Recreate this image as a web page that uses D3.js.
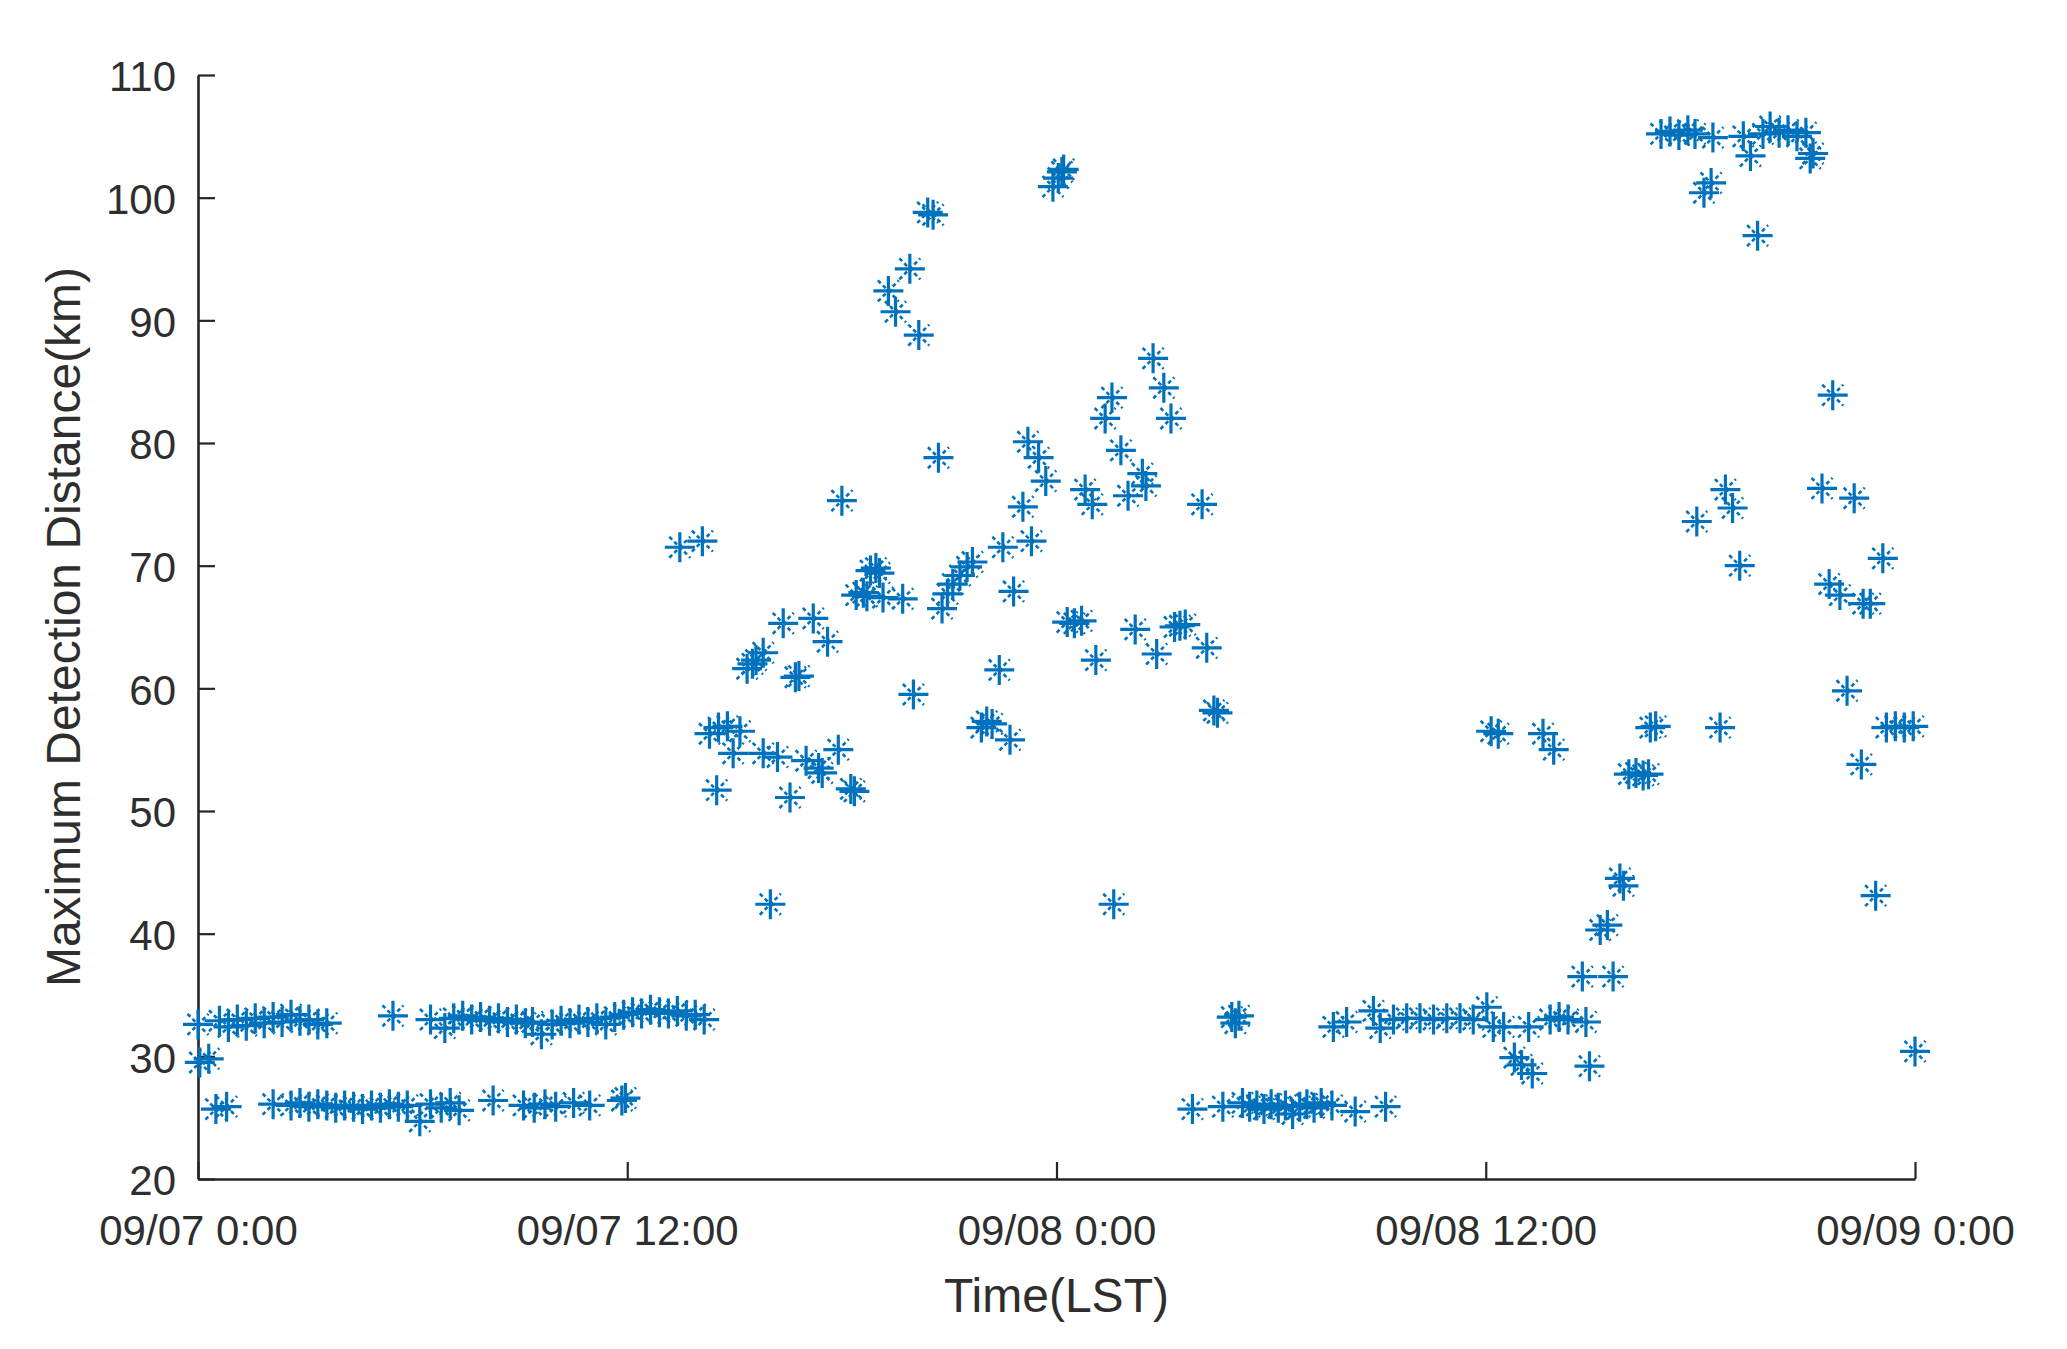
<!DOCTYPE html>
<html>
<head>
<meta charset="utf-8">
<script src="https://cdn.jsdelivr.net/npm/d3@7/dist/d3.min.js"></script>
<style>
  html, body { margin: 0; padding: 0; background: #ffffff; }
  svg { display: block; }
  text { font-family: "Liberation Sans", Arial, Helvetica, sans-serif; fill: #2e2e2e; }
</style>
</head>
<body>
<svg id="chart" width="2067" height="1349"></svg>
<script>
// Hours since 09/07 0:00 (LST)
const hours = [
  // 09/07 00-12 upper band
  0.0, 0.6, 0.85, 1.1, 1.35, 1.6, 1.85, 2.1, 2.35, 2.6, 2.85, 3.1, 3.35, 3.6,
  5.45, 6.5, 6.9, 7.15, 7.4, 7.65, 7.9, 8.15, 8.4, 8.65, 8.9, 9.15, 9.35, 9.6,
  9.9, 10.15, 10.4, 10.65, 10.9, 11.15, 11.4, 11.65, 11.9, 12.15, 12.4, 12.65, 12.9,
  13.15, 13.4, 13.65, 13.9, 14.15,
  // 09/07 00-12 lower band
  0.05, 0.3, 0.5, 0.8, 2.1, 2.6, 2.85, 3.1, 3.35, 3.6, 3.85, 4.1, 4.35, 4.6, 4.85,
  5.1, 5.35, 5.6, 5.85, 6.2, 6.5, 6.8, 7.05, 7.3, 8.25, 9.1, 9.4, 9.7, 10.0, 10.5,
  10.95, 11.85, 11.95,
  // 09/07 12 - 09/08 04
  13.47, 14.1, 14.3, 14.55, 14.8, 15.15, 14.96, 14.5, 15.35, 15.5, 15.6, 15.8,
  15.8, 16.2, 16.0, 16.36, 16.55, 16.7, 16.8, 17.0, 17.35, 17.45, 17.2, 17.6, 17.9,
  18.0, 18.25, 18.35, 18.4, 18.6, 18.7, 18.8, 18.95, 19.05, 19.15, 19.7,
  19.3, 19.5, 19.9, 20.15, 20.0, 20.4, 20.55, 20.7,
  20.8, 20.95, 21.1, 21.3, 21.5, 21.65, 21.9, 22.05, 22.2, 22.4, 22.5, 22.7, 22.8,
  23.06, 23.3, 23.2, 23.5, 23.7, 23.9, 24.05, 24.15, 24.2,
  24.3, 24.5, 24.7, 24.8, 25.0, 25.1, 25.36, 25.55, 25.6, 25.8, 26.0, 26.2,
  26.4, 26.5, 26.7, 26.8, 27.0, 27.2, 27.3, 27.45, 27.6, 28.07, 28.2, 28.4, 28.5,
  // 09/08 04-12 low bands
  27.8, 28.65, 29.2, 29.4, 29.6, 29.8, 30.0, 30.2, 30.4, 30.6, 30.8, 31.0, 31.2,
  31.4, 31.7, 32.35, 33.2, 28.9, 29.0, 29.1,
  31.74, 32.11, 32.86, 33.05, 33.42, 33.79, 34.16, 34.54, 34.91, 35.28, 35.65,
  36.03, 36.21,
  // 09/08 12 - 09/09 00
  36.15, 36.35, 36.5, 37.2, 36.8, 37.0, 37.3, 37.6, 37.9, 37.8, 38.05, 38.3, 38.8,
  38.7, 39.56, 38.9, 39.2, 39.4, 39.75, 39.85, 40.0, 40.2, 40.4, 40.55, 40.6, 40.75,
  40.9, 41.15, 41.4, 41.65, 41.85, 41.9, 42.1, 42.3, 42.35, 42.55, 42.7, 42.9, 43.1,
  43.2, 43.4, 43.6, 43.75, 43.95, 44.2, 44.45, 44.7, 44.95, 45.07, 45.15,
  45.4, 45.6, 45.9, 45.7, 46.1, 46.3, 46.5, 46.55, 46.75, 46.9, 47.1,
  47.2, 47.45, 47.7, 47.95, 48.0
];

// Maximum detection distance (km)
const distance = [
  32.6, 32.9, 32.4, 33.0, 32.5, 33.1, 32.7, 33.2, 32.8, 33.4, 32.9, 33.0, 32.6, 32.7,
  33.3, 33.0, 32.3, 33.1, 33.3, 33.0, 33.2, 32.9, 33.1, 32.8, 33.0, 32.7, 32.8, 31.8,
  32.6, 32.9, 32.7, 33.0, 32.8, 33.1, 32.6, 33.2, 33.4, 33.6, 33.5, 33.8, 33.6,
  33.5, 33.7, 33.3, 33.4, 33.0,
  29.5, 29.8, 25.7, 25.9, 26.1, 26.0, 26.2, 25.9, 26.1, 26.0, 25.8, 26.0, 25.9, 25.7, 26.0,
  25.8, 26.1, 25.9, 26.0, 24.7, 26.1, 25.8, 26.2, 25.6, 26.4, 26.0, 25.8, 26.1, 25.9, 26.2,
  26.0, 26.4, 26.6,
  71.5, 72.0, 56.3, 56.8, 56.9, 56.5, 54.7, 51.7, 61.6, 62.0, 62.3, 62.9,
  54.7, 54.4, 42.4, 65.3, 51.1, 60.9, 61.0, 54.1, 53.5, 53.1, 65.7, 63.8, 55.0,
  75.3, 51.8, 51.6, 67.6, 67.8, 67.5, 69.6, 69.8, 69.4, 67.4, 67.3,
  92.4, 90.7, 94.2, 88.8, 59.5, 98.8, 98.6, 78.8,
  66.5, 67.7, 68.5, 69.2, 69.9, 70.3, 56.8, 57.3, 57.1, 61.5, 71.5, 55.8, 67.9,
  74.8, 72.0, 80.1, 78.8, 76.9, 100.9, 101.6, 102.1, 102.3,
  65.4, 65.3, 65.5, 76.2, 75.0, 62.3, 82.0, 83.7, 42.4, 79.4, 75.7, 64.8,
  77.5, 76.5, 86.9, 62.8, 84.5, 82.0, 65.0, 65.1, 65.2, 75.0, 63.3, 58.2, 58.0,
  25.7, 25.9, 26.2, 25.9, 26.0, 25.7, 26.1, 25.8, 26.0, 25.3, 25.9, 26.1, 25.8,
  26.2, 26.0, 25.5, 25.9, 33.2, 32.7, 33.3,
  32.4, 32.8, 33.7, 32.3, 33.0, 33.1, 33.1, 33.0, 33.1, 33.1, 33.0,
  34.0, 32.4,
  56.5, 56.3, 32.4, 32.4, 29.9, 29.3, 28.6, 56.3, 55.0, 33.0, 33.2, 33.0, 32.8,
  36.5, 36.5, 29.2, 40.3, 40.7, 44.5, 43.9, 53.0, 53.1, 52.9, 53.0, 56.8, 56.9,
  105.2, 105.4, 105.1, 105.5, 105.2, 73.6, 100.4, 101.2, 104.9, 56.8, 76.2, 74.7, 70.0,
  105.0, 103.4, 96.9, 105.2, 105.8, 105.3, 105.5, 105.0, 105.3, 103.2, 103.6,
  76.3, 68.5, 67.6, 83.9, 59.8, 75.5, 53.8, 66.9, 66.9, 43.1, 70.6,
  56.8, 56.9, 56.8, 56.9, 30.4
];

const xTickValues = [0, 12, 24, 36, 48];
const xTickLabels = ["09/07 0:00", "09/07 12:00", "09/08 0:00", "09/08 12:00", "09/09 0:00"];
const yTickValues = [20, 30, 40, 50, 60, 70, 80, 90, 100, 110];
const xTitle = "Time(LST)";
const yTitle = "Maximum Detection Distance(km)";

(function draw() {
  const svg = d3.select("#chart");
  const L = 198, R = 1915, T = 75, B = 1179;
  const axisColor = "#262626";
  const textColor = "#2e2e2e";
  const markerColor = "#0072BD";

  const x = d3.scaleLinear().domain([0, 48]).range([L, R]);
  const y = d3.scaleLinear().domain([20, 110]).range([B, T]);

  const xAxis = d3.axisBottom(x)
    .tickValues(xTickValues)
    .tickFormat((d, i) => xTickLabels[i])
    .tickSizeInner(-17).tickSizeOuter(0).tickPadding(36);
  const yAxis = d3.axisLeft(y)
    .tickValues(yTickValues)
    .tickSizeInner(-17).tickSizeOuter(0).tickPadding(22);

  const gx = svg.append("g").attr("transform", `translate(0,${B})`).call(xAxis);
  const gy = svg.append("g").attr("transform", `translate(${L},0)`).call(yAxis);

  [gx, gy].forEach(g => {
    g.select(".domain").attr("stroke", axisColor).attr("stroke-width", 2.6);
    g.selectAll(".tick line").attr("stroke", axisColor).attr("stroke-width", 2.2);
    g.selectAll(".tick text")
      .attr("fill", textColor)
      .style("font-family", '"Liberation Sans", Arial, sans-serif')
      .style("font-size", "42px");
  });
  gy.selectAll(".tick text").attr("dy", "0.38em");

  svg.append("text")
    .attr("x", (L + R) / 2).attr("y", 1312)
    .attr("text-anchor", "middle")
    .style("font-size", "48px")
    .text(xTitle);
  svg.append("text")
    .attr("transform", `translate(80,${(T + B) / 2}) rotate(-90)`)
    .attr("text-anchor", "middle")
    .style("font-size", "48px")
    .text(yTitle);

  const points = hours.map((h, i) => ({ h, v: distance[i] }));
  const arm = 15, diag = 10.5;
  const marks = svg.append("g").selectAll("g.pt")
    .data(points).join("g")
    .attr("class", "pt")
    .attr("transform", d => `translate(${x(d.h)},${y(d.v)})`);
  marks.append("path")
    .attr("d", `M${-arm},0H${arm}M0,${-arm}V${arm}`)
    .attr("stroke", markerColor).attr("stroke-width", 3.2).attr("fill", "none");
  marks.append("path")
    .attr("d", `M${-diag},${-diag}L${diag},${diag}M${-diag},${diag}L${diag},${-diag}`)
    .attr("stroke", markerColor).attr("stroke-width", 2.6).attr("fill", "none")
    .attr("stroke-dasharray", "4,3");
})();
</script>
</body>
</html>
